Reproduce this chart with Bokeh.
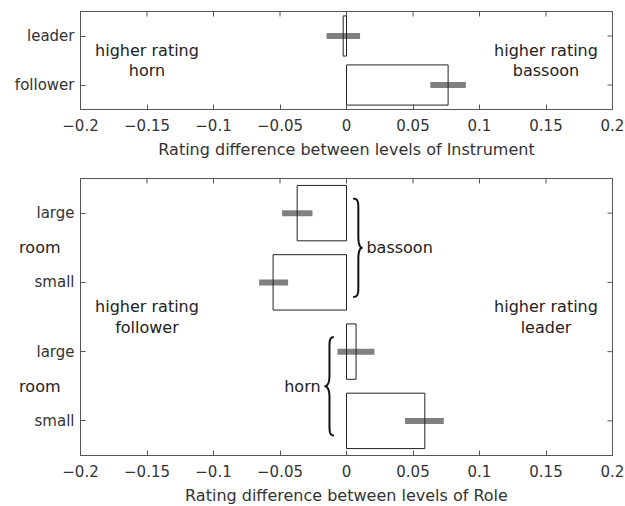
import numpy as np
from bokeh.plotting import figure
from bokeh.models import FixedTicker, LinearAxis, Range1d, ColumnDataSource
from bokeh.layouts import column
from bokeh.embed import file_html
from bokeh.resources import INLINE
from bokeh.core.properties import value

# ---------------- data ----------------
x_ticks = [-0.2, -0.15, -0.1, -0.05, 0.0, 0.05, 0.1, 0.15, 0.2]
x_tick_labels = ["\u22120.2", "\u22120.15", "\u22120.1", "\u22120.05", "0", "0.05", "0.1", "0.15", "0.2"]

# top panel: rating difference between levels of Instrument
instr_roles = ["leader", "follower"]
instr_diff = [-0.0025, 0.0764]
instr_lo = [-0.015, 0.063]
instr_hi = [0.0102, 0.0897]

# bottom panel: rating difference between levels of Role
role_rooms = ["large", "small", "large", "small"]
role_instr = ["bassoon", "bassoon", "horn", "horn"]
role_diff = [-0.0371, -0.0552, 0.0072, 0.0589]
role_lo = [-0.0484, -0.0657, -0.0068, 0.0440]
role_hi = [-0.0256, -0.0439, 0.0210, 0.0732]

FONT = "DejaVu Sans"
TXT = "#222222"
FRAME = "#555555"
TICK_PX = 5
FW = 532


def style(p, yticks, ylabels, xlabel, frame_h, yr):
    p.xgrid.visible = False
    p.ygrid.visible = False
    p.outline_line_color = FRAME
    p.outline_line_width = 1
    xa = p.xaxis[0]
    xa.ticker = FixedTicker(ticks=x_ticks)
    xa.major_label_overrides = {t: l for t, l in zip(x_ticks, x_tick_labels)}
    xa.axis_label = xlabel
    ya = p.yaxis[0]
    ya.ticker = FixedTicker(ticks=yticks)
    ya.major_label_overrides = {t: l for t, l in zip(yticks, ylabels)}
    for ax in (xa, ya):
        ax.axis_line_color = FRAME
        ax.major_tick_line_color = FRAME
        ax.major_tick_in = TICK_PX
        ax.major_tick_out = 0
        ax.minor_tick_line_color = None
        ax.major_label_text_font = FONT
        ax.major_label_text_font_size = "15px"
        ax.major_label_text_color = "#333333"
        ax.axis_label_text_font = FONT
        ax.axis_label_text_font_size = "16px"
        ax.axis_label_text_font_style = "normal"
        ax.axis_label_text_color = "#333333"
    xa.major_label_standoff = 9
    xa.axis_label_standoff = 6
    ya.major_label_standoff = 6
    # mirrored inward ticks on top and right edges of the box
    dy = TICK_PX * (yr[1] - yr[0]) / frame_h
    dx = TICK_PX * 0.4 / FW
    p.segment(x0=x_ticks, y0=[yr[1]] * len(x_ticks), x1=x_ticks, y1=[yr[1] - dy] * len(x_ticks),
              line_color=FRAME, line_width=1)
    p.segment(x0=[0.2] * len(yticks), y0=yticks, x1=[0.2 - dx] * len(yticks), y1=yticks,
              line_color=FRAME, line_width=1)


def cubic(p0, p1, p2, p3, n=16):
    t = np.linspace(0, 1, n)[:, None]
    pts = ((1 - t) ** 3) * np.array(p0) + 3 * ((1 - t) ** 2) * t * np.array(p1) \
        + 3 * (1 - t) * t ** 2 * np.array(p2) + t ** 3 * np.array(p3)
    return pts


def brace(yc, h, x_end, x_body, x_tip):
    segs = []
    for s in (1, -1):
        a = cubic((x_end, yc + s * h), (x_body, yc + s * h), (x_body, yc + s * (h - 0.06)),
                  (x_body, yc + s * (h - 0.16)))
        c = cubic((x_body, yc + s * 0.16), (x_body, yc + s * 0.05),
                  (x_body + (x_tip - x_body) * 0.4, yc), (x_tip, yc))
        segs.append(np.vstack([a, c]))
    top, bot = segs
    path = np.vstack([top, bot[::-1]])
    return list(path[:, 0]), list(path[:, 1])


# ---------------- top figure ----------------
yr1 = (0.5, 2.5)
FH1 = 98
p1 = figure(frame_width=FW, frame_height=FH1, x_range=Range1d(-0.2, 0.2), y_range=Range1d(*yr1),
            output_backend="svg", toolbar_location=None,
            min_border_left=80, min_border_right=12, min_border_top=11, min_border_bottom=52)
pos1 = [2, 1]
style(p1, pos1, instr_roles, "Rating difference between levels of Instrument", FH1, yr1)
src1 = ColumnDataSource(dict(y=pos1, d=instr_diff, lo=instr_lo, hi=instr_hi))
p1.segment(x0="lo", y0="y", x1="hi", y1="y", source=src1, line_color="#808080",
           line_width=6, line_cap="butt")
p1.hbar(y="y", left=0, right="d", height=0.82, source=src1, fill_color="white",
        fill_alpha=0.0, line_color="#222222", line_width=1)
p1.text(x=[-0.15, 0.15], y=[1.5, 1.5], text=["higher rating\nhorn", "higher rating\nbassoon"],
        text_align="center", text_baseline="middle", text_font=value(FONT),
        text_font_size="16px", text_color=TXT, text_line_height=1.1)

# ---------------- bottom figure ----------------
yr2 = (0.5, 4.5)
FH2 = 277
p2 = figure(frame_width=FW, frame_height=FH2, x_range=Range1d(-0.2, 0.2), y_range=Range1d(*yr2),
            output_backend="svg", toolbar_location=None,
            min_border_left=80, min_border_right=12, min_border_top=17, min_border_bottom=10)
pos2 = [4, 3, 2, 1]
style(p2, pos2, role_rooms, "Rating difference between levels of Role", FH2, yr2)
src2 = ColumnDataSource(dict(y=pos2, d=role_diff, lo=role_lo, hi=role_hi))
p2.segment(x0="lo", y0="y", x1="hi", y1="y", source=src2, line_color="#808080",
           line_width=6, line_cap="butt")
p2.hbar(y="y", left=0, right="d", height=0.8, source=src2, fill_color="white",
        fill_alpha=0.0, line_color="#222222", line_width=1)
p2.text(x=[-0.15, 0.15], y=[2.5, 2.5], text=["higher rating\nfollower", "higher rating\nleader"],
        text_align="center", text_baseline="middle", text_font=value(FONT),
        text_font_size="16px", text_color=TXT, text_line_height=1.1)

# braces and group labels
groups = ["bassoon", "horn"]
centers = [float(np.mean([p for p, g in zip(pos2, role_instr) if g == gr])) for gr in groups]
bx, by = brace(centers[0], 0.71, 0.005, 0.0089, 0.012)
hx, hy = brace(centers[1], 0.71, -0.0095, -0.0128, -0.0165)
p2.multi_line(xs=[bx, hx], ys=[by, hy], line_color="#111111", line_width=2)
p2.text(x=[0.015], y=[centers[0]], text=[groups[0]], text_align="left", text_baseline="middle",
        text_font=value(FONT), text_font_size="16px", text_color=TXT)
p2.text(x=[-0.0195], y=[centers[1]], text=[groups[1]], text_align="right", text_baseline="middle",
        text_font=value(FONT), text_font_size="16px", text_color=TXT)

# "room" factor label on the left, as an extra axis
room_axis = LinearAxis(ticker=FixedTicker(ticks=centers),
                       major_label_overrides={c: "room" for c in centers},
                       major_tick_line_color=None, axis_line_color=None,
                       minor_tick_line_color=None, major_label_standoff=-35,
                       major_label_text_font=FONT, major_label_text_font_size="16px",
                       major_label_text_color=TXT)
p2.add_layout(room_axis, "left")

layout = column(p1, p2, spacing=0)
open("out.html", "w").write(file_html(layout, INLINE))
